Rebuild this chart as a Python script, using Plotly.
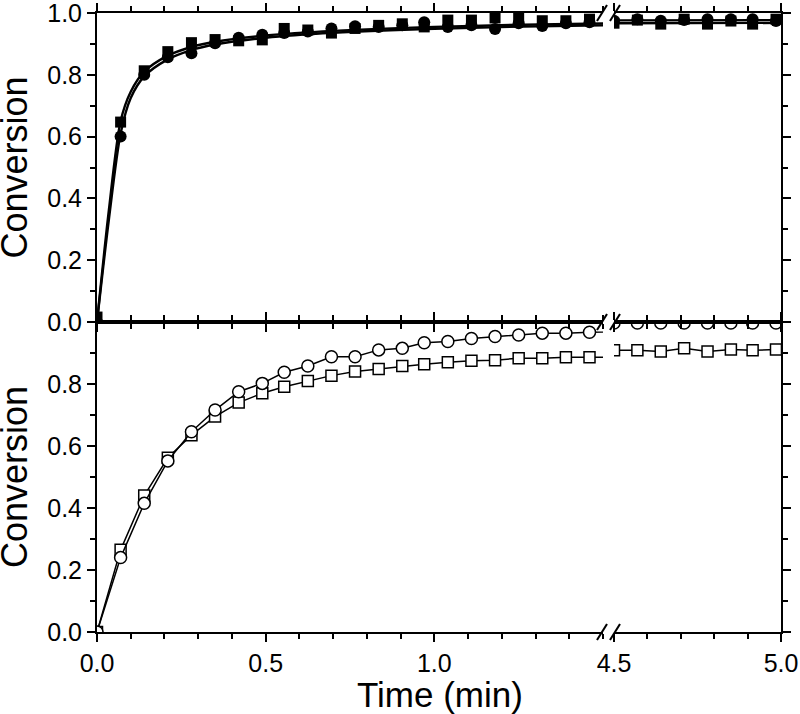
import plotly.graph_objects as go

# ---------------- data ----------------
time_min = [0, 0.07, 0.14, 0.21, 0.28, 0.35, 0.42, 0.49, 0.555, 0.625, 0.695,
            0.765, 0.835, 0.905, 0.97, 1.04, 1.11, 1.18, 1.25, 1.32, 1.39, 1.46,
            4.5, 4.57, 4.64, 4.71, 4.78, 4.85, 4.915, 4.985]

top_squares = [0.016, 0.647, 0.813, 0.875, 0.904, 0.914, 0.91, 0.913, 0.95, 0.945, 0.935,
               0.95, 0.96, 0.965, 0.955, 0.977, 0.977, 0.984, 0.984, 0.975, 0.975, 0.98,
               0.967, 0.977, 0.964, 0.98, 0.964, 0.974, 0.964, 0.98]
top_circles = [0.0, 0.60, 0.80, 0.857, 0.87, 0.902, 0.92, 0.93, 0.935, 0.94, 0.95,
               0.957, 0.955, 0.96, 0.97, 0.955, 0.96, 0.948, 0.967, 0.958, 0.967, 0.97,
               0.975, 0.98, 0.975, 0.977, 0.98, 0.98, 0.98, 0.974]

bottom_squares = [0.0, 0.265, 0.44, 0.562, 0.635, 0.695, 0.74, 0.77, 0.791, 0.81, 0.827,
                  0.84, 0.848, 0.858, 0.864, 0.87, 0.875, 0.877, 0.883, 0.883, 0.886, 0.886,
                  0.909, 0.909, 0.905, 0.915, 0.905, 0.911, 0.909, 0.911]
bottom_circles = [0.0, 0.24, 0.415, 0.552, 0.646, 0.716, 0.775, 0.802, 0.838, 0.858, 0.888,
                  0.888, 0.91, 0.915, 0.933, 0.937, 0.947, 0.953, 0.958, 0.964, 0.964, 0.967,
                  0.997, 0.997, 0.997, 0.997, 0.997, 0.997, 0.997, 0.997]

# fitted curves in the top panel
fit_time = [0, 0.035, 0.07, 0.10, 0.14, 0.21, 0.28, 0.35, 0.5, 0.7, 1.0, 1.5, 4.5, 5.0]
fit_squares = [0, 0.36, 0.65, 0.745, 0.81, 0.862, 0.89, 0.907, 0.927, 0.942, 0.955, 0.966, 0.976, 0.977]
fit_circles = [0, 0.33, 0.61, 0.725, 0.795, 0.85, 0.88, 0.898, 0.92, 0.936, 0.949, 0.96, 0.967, 0.968]

x_left_ticks = [0.0, 0.5, 1.0]
x_right_ticks = [4.5, 5.0]
y_ticks = [0.0, 0.2, 0.4, 0.6, 0.8, 1.0]

# ---------------- layout geometry ----------------
W, H = 800, 714
L, R, T, B, MID = 97, 781, 13, 632, 322
BRK_L, BRK_R = 603, 614

def px(xp):
    return (xp - L) / (R - L)

def py(yp):
    return (B - yp) / (B - T)

FONT = "Arial, Liberation Sans, sans-serif"
BLACK = "#000000"

fig = go.Figure()

# subplot ids: (x, y) bottom-left, (x2, y3) bottom-right, (x3, y2) top-left, (x4, y4) top-right
panels_top = [("x3", "y2"), ("x4", "y4")]
panels_bot = [("x", "y"), ("x2", "y3")]

for xa, ya in panels_top:
    fig.add_trace(go.Scatter(x=fit_time, y=fit_squares, mode="lines", xaxis=xa, yaxis=ya,
                             line=dict(color=BLACK, width=2.4, shape="spline", smoothing=0.8),
                             showlegend=False, hoverinfo="skip"))
    fig.add_trace(go.Scatter(x=fit_time, y=fit_circles, mode="lines", xaxis=xa, yaxis=ya,
                             line=dict(color=BLACK, width=2.4, shape="spline", smoothing=0.8),
                             showlegend=False, hoverinfo="skip"))
    fig.add_trace(go.Scatter(x=time_min, y=top_squares, mode="markers", xaxis=xa, yaxis=ya,
                             marker=dict(symbol="square", size=11, color=BLACK),
                             showlegend=False))
    fig.add_trace(go.Scatter(x=time_min, y=top_circles, mode="markers", xaxis=xa, yaxis=ya,
                             marker=dict(symbol="circle", size=12, color=BLACK),
                             showlegend=False))

for xa, ya in panels_bot:
    fig.add_trace(go.Scatter(x=time_min, y=bottom_squares, mode="lines+markers", xaxis=xa, yaxis=ya,
                             line=dict(color=BLACK, width=1.5),
                             marker=dict(symbol="square", size=11, color="white",
                                         line=dict(color=BLACK, width=1.5)),
                             showlegend=False))
    fig.add_trace(go.Scatter(x=time_min, y=bottom_circles, mode="lines+markers", xaxis=xa, yaxis=ya,
                             line=dict(color=BLACK, width=1.5),
                             marker=dict(symbol="circle", size=12, color="white",
                                         line=dict(color=BLACK, width=1.5)),
                             showlegend=False))

tickfont = dict(family=FONT, size=25, color=BLACK)
left_dom = [0, px(BRK_L)]
right_dom = [px(BRK_R), 1]
bot_dom = [0, py(MID)]
top_dom = [py(MID), 1]

def xaxis(dom, rng, ticks, anchor, labels):
    minor_vals = [round(rng[0] + 0.1 * i, 2) for i in range(int(round((rng[1] - rng[0]) / 0.1)) + 1)]
    return dict(domain=dom, range=rng, anchor=anchor, tickmode="array", tickvals=ticks,
                ticktext=[f"{t:.1f}" for t in ticks], showticklabels=labels,
                ticks="outside", ticklen=8, tickwidth=2, tickcolor=BLACK,
                minor=dict(tickmode="array", tickvals=minor_vals, ticks="outside",
                           ticklen=5, tickwidth=2, tickcolor=BLACK),
                showline=True, linewidth=2, linecolor=BLACK, mirror="ticks",
                showgrid=False, zeroline=False, tickfont=tickfont, fixedrange=True,
                automargin=False, ticklabeloverflow="allow")

def yaxis(dom, anchor, side, labels, show_top_label):
    txt = [f"{t:.1f}" for t in y_ticks]
    if not show_top_label:
        txt[-1] = ""
    return dict(domain=dom, range=[0, 1], anchor=anchor, side=side, tickmode="array",
                tickvals=y_ticks, ticktext=txt, showticklabels=labels,
                ticks="outside", ticklen=8, tickwidth=2, tickcolor=BLACK,
                minor=dict(tickmode="array", tickvals=[0.1, 0.3, 0.5, 0.7, 0.9], ticks="outside",
                           ticklen=5, tickwidth=2, tickcolor=BLACK),
                showline=True, linewidth=2, linecolor=BLACK, mirror=False,
                showgrid=False, zeroline=False, tickfont=tickfont, fixedrange=True,
                automargin=False, ticklabeloverflow="allow")

fig.update_layout(
    width=W, height=H,
    margin=dict(l=L, r=W - R, t=T, b=H - B, pad=0, autoexpand=False),
    paper_bgcolor="white", plot_bgcolor="white",
    font=dict(family=FONT, color=BLACK),
    xaxis=xaxis(left_dom, [0, 1.5], x_left_ticks, "y", True),
    xaxis2=xaxis(right_dom, [4.5, 5.0], x_right_ticks, "y3", True),
    xaxis3=xaxis(left_dom, [0, 1.5], x_left_ticks, "y2", False),
    xaxis4=xaxis(right_dom, [4.5, 5.0], x_right_ticks, "y4", False),
    yaxis=yaxis(bot_dom, "x", "left", True, False),
    yaxis2=yaxis(top_dom, "x3", "left", True, True),
    yaxis3=yaxis(bot_dom, "x2", "right", False, False),
    yaxis4=yaxis(top_dom, "x4", "right", False, False),
)

# axis break marks
shapes = []
for yb in (T, MID, B):
    for xb in (BRK_L - 1, BRK_R + 1):
        shapes.append(dict(type="line", xref="paper", yref="paper",
                           x0=px(xb - 5), y0=py(yb + 8), x1=px(xb + 5), y1=py(yb - 8),
                           line=dict(color=BLACK, width=2)))
fig.update_layout(shapes=shapes)

# titles
title_font = dict(family=FONT, size=36, color=BLACK)
fig.add_annotation(text="Conversion", xref="paper", yref="paper", x=px(14), y=py((T + MID) / 2),
                   textangle=-90, showarrow=False, font=title_font, xanchor="center", yanchor="middle")
fig.add_annotation(text="Conversion", xref="paper", yref="paper", x=px(14), y=py((MID + B) / 2),
                   textangle=-90, showarrow=False, font=title_font, xanchor="center", yanchor="middle")
fig.add_annotation(text="Time (min)", xref="paper", yref="paper", x=px(440), y=py(694),
                   showarrow=False, font=dict(family=FONT, size=35, color=BLACK),
                   xanchor="center", yanchor="middle")

# remove the browser's default page margin so the figure sits at the window origin
fig.write_html("out.html", config={"displayModeBar": False},
               post_script="document.body.style.margin='0';")
